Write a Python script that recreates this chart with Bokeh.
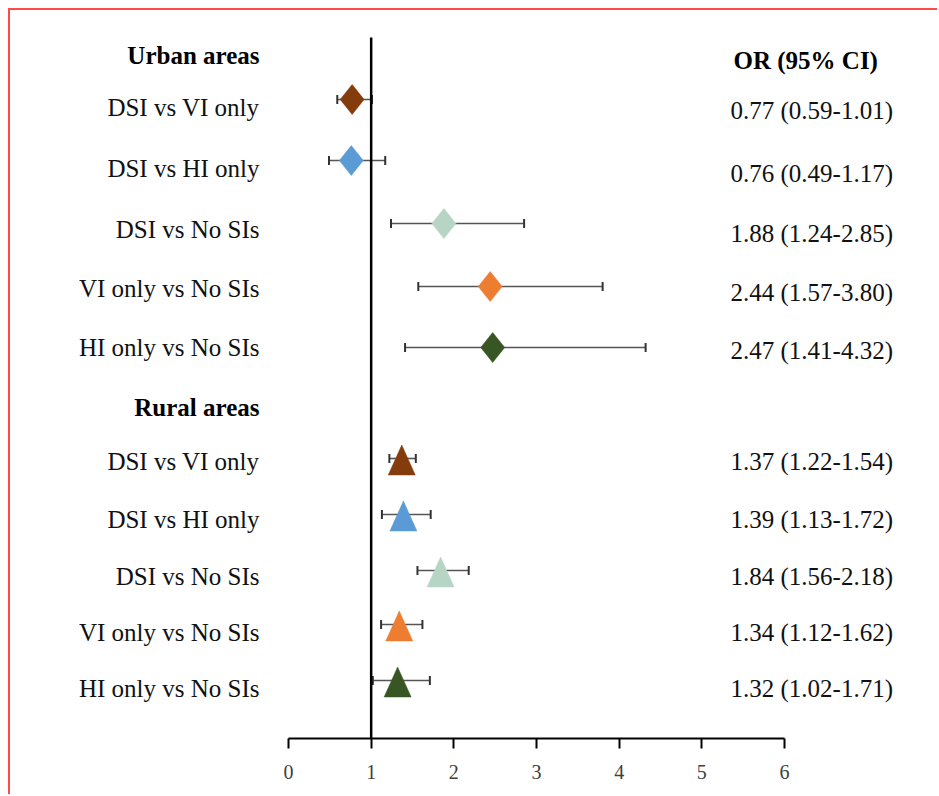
from bokeh.plotting import figure
from bokeh.models import Range1d, LinearAxis, FixedTicker, Whisker, ColumnDataSource, TeeHead
from bokeh.core.properties import value
from bokeh.embed import file_html
from bokeh.resources import INLINE

# ---------------- data ----------------
urban_header = "Urban areas"
rural_header = "Rural areas"
or_header = "OR (95% CI)"
comparisons = ["DSI vs VI only", "DSI vs HI only", "DSI vs No SIs",
               "VI only vs No SIs", "HI only vs No SIs"]
urban_or = [0.77, 0.76, 1.88, 2.44, 2.47]
urban_lo = [0.59, 0.49, 1.24, 1.57, 1.41]
urban_hi = [1.01, 1.17, 2.85, 3.80, 4.32]
rural_or = [1.37, 1.39, 1.84, 1.34, 1.32]
rural_lo = [1.22, 1.13, 1.56, 1.12, 1.02]
rural_hi = [1.54, 1.72, 2.18, 1.62, 1.71]
colors = ["#843C0C", "#5B9BD5", "#B7D5C4", "#ED7D31", "#375623"]
x_ticks = [0, 1, 2, 3, 4, 5, 6]
ref_value = 1

# ---------------- layout (page-pixel style vertical positions) ----------------
PX = 82.667          # pixels per OR unit
X0 = 288.0           # page x of OR = 0
CANVAS_OFF = 10      # page offset of canvas (8 margin + 2 border)
W, H = 929, 786
AXIS_Y = 738
TDY = -8.5           # text baseline correction

urban_y = [99, 160, 223, 286, 347]
rural_y = [458, 514, 570, 624, 680]
urban_lab_base = [115, 176.5, 237, 296, 355.5]
rural_lab_base = [469, 527, 584, 640, 696.5]
urban_num_base = [118.5, 181.5, 241.5, 300.5, 358.5]
rural_num_base = [469, 527, 584, 640, 696.5]

def xv(page_x):
    return (page_x - X0) / PX

def tyv(lst):
    return [v + TDY for v in lst]

x_range = Range1d(xv(CANVAS_OFF), xv(CANVAS_OFF + W))
y_range = Range1d(AXIS_Y, CANVAS_OFF)   # flipped: top small

p = figure(width=W, height=H, x_range=x_range, y_range=y_range,
           x_axis_location=None, y_axis_location=None,
           toolbar_location=None, output_backend="svg",
           min_border_left=0, min_border_right=0, min_border_top=0,
           min_border_bottom=H - (AXIS_Y - CANVAS_OFF),
           outline_line_color=None, background_fill_color="white",
           border_fill_color="white")
p.grid.visible = False
p.styles = {"border-left": "2px solid #ff4a4a", "border-top": "2px solid #ff4a4a",
            "margin-left": "8px", "margin-top": "8px"}

# reference line at OR = 1
p.segment(x0=[ref_value], y0=[37], x1=[ref_value], y1=[AXIS_Y],
          line_color="black", line_width=2.5)

FONT = "Liberation Serif"

def add_block(ors, los, his, ys, shape):
    src = ColumnDataSource(dict(y=ys, lo=los, hi=his))
    w = Whisker(source=src, base="y", lower="lo", upper="hi", dimension="width",
                line_color="#555555", line_width=1.6,
                lower_head=TeeHead(size=9, line_color="#333333", line_width=2),
                upper_head=TeeHead(size=9, line_color="#333333", line_width=2))
    p.add_layout(w)
    xs, yss = [], []
    for o, y in zip(ors, ys):
        if shape == "diamond":
            hw = 12 / PX
            xs.append([o - hw, o, o + hw, o])
            yss.append([y, y - 15, y, y + 15])
        else:
            hw = 13.5 / PX
            xs.append([o - hw, o, o + hw])
            yss.append([y + 16.5, y - 13.5, y + 16.5])
    p.patches(xs=xs, ys=yss, fill_color=colors, line_color=colors, line_width=0.5)

add_block(urban_or, urban_lo, urban_hi, urban_y, "diamond")
add_block(rural_or, rural_lo, rural_hi, rural_y, "triangle")

label_x = xv(259)
num_x = xv(730)
FS = "25px"

# headers
p.text(x=[label_x, label_x], y=tyv([63, 415]), text=[urban_header, rural_header],
       text_font=value(FONT), text_font_size=FS, text_font_style="bold",
       text_align="right", text_baseline="alphabetic", text_color="black")
p.text(x=[xv(733)], y=tyv([68]), text=[or_header],
       text_font=value(FONT), text_font_size=FS, text_font_style="bold",
       text_align="left", text_baseline="alphabetic", text_color="black")

# comparison labels
p.text(x=[label_x] * 10, y=tyv(urban_lab_base + rural_lab_base),
       text=comparisons + comparisons,
       text_font=value(FONT), text_font_size=FS,
       text_align="right", text_baseline="alphabetic", text_color="#111111")

# OR (95% CI) texts
or_texts = [f"{o:.2f} ({l:.2f}-{h:.2f})" for o, l, h in
            zip(urban_or + rural_or, urban_lo + rural_lo, urban_hi + rural_hi)]
p.text(x=[num_x] * 10, y=tyv(urban_num_base + rural_num_base), text=or_texts,
       text_font=value(FONT), text_font_size=FS,
       text_align="left", text_baseline="alphabetic", text_color="#111111")

# x axis
xaxis = LinearAxis(ticker=FixedTicker(ticks=x_ticks), bounds=(x_ticks[0], x_ticks[-1]))
xaxis.axis_line_color = "black"
xaxis.axis_line_width = 2
xaxis.major_tick_in = 0
xaxis.major_tick_out = 10
xaxis.major_tick_line_width = 2
xaxis.major_tick_line_color = "black"
xaxis.minor_tick_in = 0
xaxis.minor_tick_out = 0
xaxis.major_label_text_font = FONT
xaxis.major_label_text_font_size = "20px"
xaxis.major_label_text_color = "#404040"
xaxis.major_label_standoff = 16
p.add_layout(xaxis, "below")

open("out.html", "w").write(file_html(p, INLINE))
